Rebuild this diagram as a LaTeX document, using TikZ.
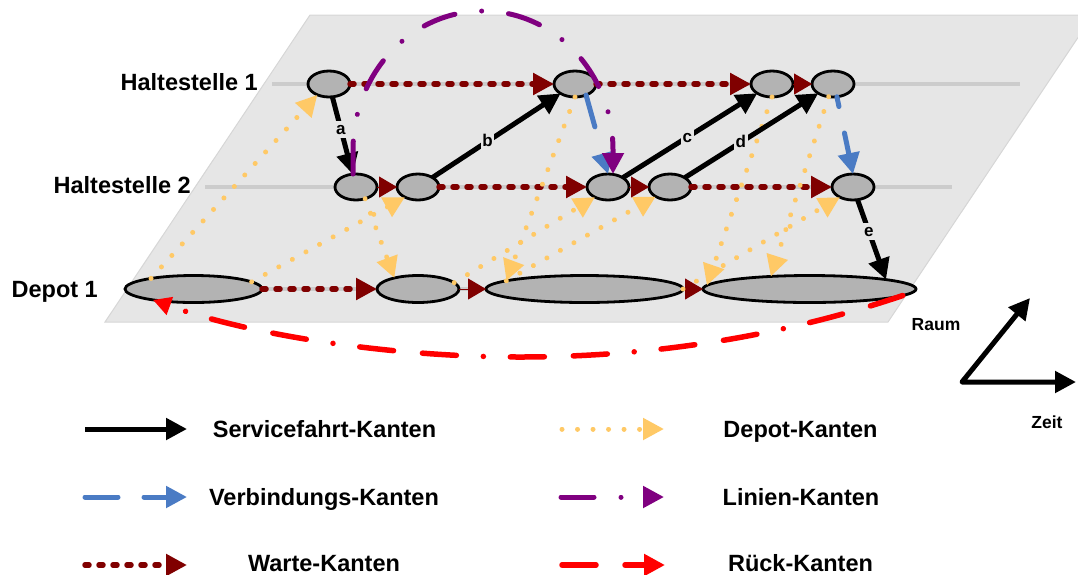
\documentclass[tikz,border=0pt]{standalone}
\usepackage{fontspec}
\setmainfont{Liberation Sans}
\usetikzlibrary{arrows.meta,shapes.geometric}

\definecolor{plane}{HTML}{E6E6E6}
\definecolor{planeedge}{HTML}{D6D6D6}
\definecolor{railgray}{HTML}{CCCCCC}
\definecolor{nodefill}{HTML}{B3B3B3}
\definecolor{waitred}{HTML}{800000}
\definecolor{depotorange}{HTML}{FFC966}
\definecolor{linkblue}{HTML}{4A7BC4}
\definecolor{linepurple}{HTML}{800080}
\definecolor{backred}{HTML}{FF0000}

\begin{document}
\begin{tikzpicture}[x=1pt,y=-1pt,
  head/.style={-{Triangle[length=21pt,width=21pt]}},
  stopnode/.style={ellipse,draw=black,line width=2.8pt,fill=nodefill,
    inner sep=0pt,outer sep=0pt,minimum width=42pt,minimum height=26pt},
  depotnode/.style={stopnode,minimum height=27pt},
  rail/.style={draw=railgray,line width=4pt},
  serv/.style={head,draw=black,line width=5pt},
  waitedge/.style={head,draw=waitred,line width=5.5pt,line cap=round,
    dash pattern=on 4pt off 10pt},
  waitshort/.style={-{Triangle[length=18pt,width=21pt]},draw=waitred,line width=1pt},
  depotedge/.style={head,draw=depotorange,line width=5pt,line cap=round,
    dash pattern=on 0.01pt off 15.5pt},
  linkedge/.style={head,draw=linkblue,line width=5pt,line cap=round},
  lineedge/.style={head,draw=linepurple,line width=5pt,line cap=round,
    dash pattern=on 33pt off 27pt on 0.01pt off 27pt},
  backedge/.style={head,draw=backred,line width=5.5pt,line cap=round,
    dash pattern=on 34pt off 29pt on 34pt off 27pt on 0.01pt off 27pt},
  bigtext/.style={font=\bfseries\fontsize{23.5}{28}\selectfont,inner sep=0pt},
  axtext/.style={font=\bfseries\fontsize{17.5}{21}\selectfont,inner sep=0pt},
  elabel/.style={font=\bfseries\fontsize{17}{20}\selectfont,fill=plane,
    inner sep=1.5pt,text height=12pt,text depth=2pt}
]
\useasboundingbox (0,0) rectangle (1078,574);

% ground plane of the space-time network
\fill[plane] (310,15) -- (1078,15) -- (1078,37.5) -- (888,322) -- (105,322) -- cycle;
\draw[planeedge,line width=1pt] (1078,37.5) -- (888,322) -- (105,322) -- (310,15) -- (1078,15);

% stop rails
\coordinate (r1s) at (272,84);  \coordinate (r1e) at (1020,84);
\coordinate (r2s) at (205,187); \coordinate (r2e) at (952,187);
\coordinate (r3s) at (135,289); \coordinate (r3e) at (900,289);
\draw[rail] (r1s) -- (r1e);
\draw[rail] (r2s) -- (r2e);
\draw[rail] (r3s) -- (r3e);

% row labels
\node[bigtext,anchor=base east] (t1) at (258,90.3) {Haltestelle 1};
\node[bigtext,anchor=base east] (t2) at (191,193.3) {Haltestelle 2};
\node[bigtext,anchor=base east] (t3) at (98,297) {Depot 1};

% event nodes
\node[stopnode] (H1a) at (329,84) {};
\node[stopnode] (H1b) at (575,84) {};
\node[stopnode] (H1c) at (772,84) {};
\node[stopnode] (H1d) at (833,84) {};
\node[stopnode] (H2a) at (356,187) {};
\node[stopnode] (H2b) at (418,187) {};
\node[stopnode] (H2c) at (608,187) {};
\node[stopnode] (H2d) at (670,187) {};
\node[stopnode] (H2e) at (853,187) {};
\node[depotnode,minimum width=137pt] (D1) at (193.5,289) {};
\node[depotnode,minimum width=82pt]  (D2) at (418,289) {};
\node[depotnode,minimum width=197pt] (D3) at (584.5,289) {};
\node[depotnode,minimum width=213pt] (D4) at (809.5,289) {};

% waiting arcs
\draw[waitedge] (H1a) -- (H1b);
\draw[waitedge] (H1b) -- (H1c);
\draw[waitshort] (H1c) -- (H1d);
\draw[waitshort] (H2a) -- (H2b);
\draw[waitedge] (H2b) -- (H2c);
\draw[waitshort] (H2c) -- (H2d);
\draw[waitedge] (H2d) -- (H2e);
\draw[waitedge] (D1) -- (D2);
\draw[waitshort] (D2) -- (D3);
\draw[waitshort] (D3) -- (D4);

% depot arcs
\draw[depotedge] (D1.166) -- (H1a.223);
\draw[depotedge] (D1.7) -- (H2b.218);
\draw[depotedge] (H2a.-52) -- (D2.155);
\draw[depotedge] (D2.10) -- (H2c.218);
\draw[depotedge] (H1b.south) -- (D3.174);
\draw[depotedge] (D3.174) -- (H2d.214);
\draw[depotedge] (D3.east) -- (H2e.218);
\draw[depotedge] (H1c.south) -- (D4.178);
\draw[depotedge] (H1d.251) -- (D4.162);

% service trips
\draw[serv] (H1a) -- node[elabel,pos=0.42] (la) {a} (H2a);
\draw[serv] (H2b) -- node[elabel,pos=0.43] (lb) {b} (H1b);
\draw[serv] (H2c) -- node[elabel,pos=0.48] (lc) {c} (H1c);
\draw[serv] (H2d) -- node[elabel,pos=0.42] (ld) {d} (H1d);
\draw[serv] (H2e) -- node[elabel,pos=0.4] (le) {e} (D4.7);

% deadhead connections
\draw[linkedge,dash pattern=on 33pt off 40pt] (H1b.-45) -- (H2c.north);
\draw[linkedge,dash pattern=on 10pt off 27pt on 40pt off 10pt] (H1d.-73) -- (H2e.north);

% line arc
\draw[lineedge] ([xshift=-3pt]H2a.north) -- ++(0,-24)
  .. controls (353,73.2) and (411.2,11) .. (483,11)
  .. controls (554.8,11) and (613,73.2) .. (613,150)
  -- ([xshift=5pt]H2c.north);

% return arc
\draw[backedge,-{Triangle[length=18pt,width=18pt]}] (D4.-4)
  .. controls (780,337) and (650,357) .. (520,357)
  .. controls (390,357) and (250,335) .. (D1.195);

% axes
\coordinate (ax0) at (962,382);
\coordinate (axR) at (1076,382);
\coordinate (axU) at (1030,298);
\draw[black,line width=5pt,line join=round,{Triangle[length=21pt,width=21pt]}-{Triangle[length=21pt,width=21pt]}] (axU) -- (ax0) -- (axR);
\node[axtext,anchor=base] (raum) at (936,330) {Raum};
\node[axtext,anchor=base] (zeit) at (1047,428.5) {Zeit};

% legend
\coordinate (g1s) at (85,429);  \coordinate (g1e) at (187,429);
\coordinate (g2s) at (85,497);  \coordinate (g2e) at (187,497);
\coordinate (g3s) at (85,565);  \coordinate (g3e) at (187,565);
\coordinate (g4s) at (562,429); \coordinate (g4e) at (664,429);
\coordinate (g5s) at (561,497); \coordinate (g5e) at (664,497);
\coordinate (g6s) at (562,565); \coordinate (g6e) at (665,565);
\draw[serv] (g1s) -- (g1e);
\draw[linkedge,dash pattern=on 33pt off 26pt] (g2s) -- (g2e);
\draw[waitedge] (g3s) -- (g3e);
\draw[depotedge] (g4s) -- (g4e);
\draw[lineedge] (g5s) -- (g5e);
\draw[backedge] (g6s) -- (g6e);
\node[bigtext,anchor=base] (k1) at (324.5,437) {Servicefahrt-Kanten};
\node[bigtext,anchor=base] (k2) at (324,505) {Verbindungs-Kanten};
\node[bigtext,anchor=base] (k3) at (324,571) {Warte-Kanten};
\node[bigtext,anchor=base] (k4) at (800.5,437) {Depot-Kanten};
\node[bigtext,anchor=base] (k5) at (801,505) {Linien-Kanten};
\node[bigtext,anchor=base] (k6) at (800.5,571) {Rück-Kanten};
\end{tikzpicture}
\end{document}
